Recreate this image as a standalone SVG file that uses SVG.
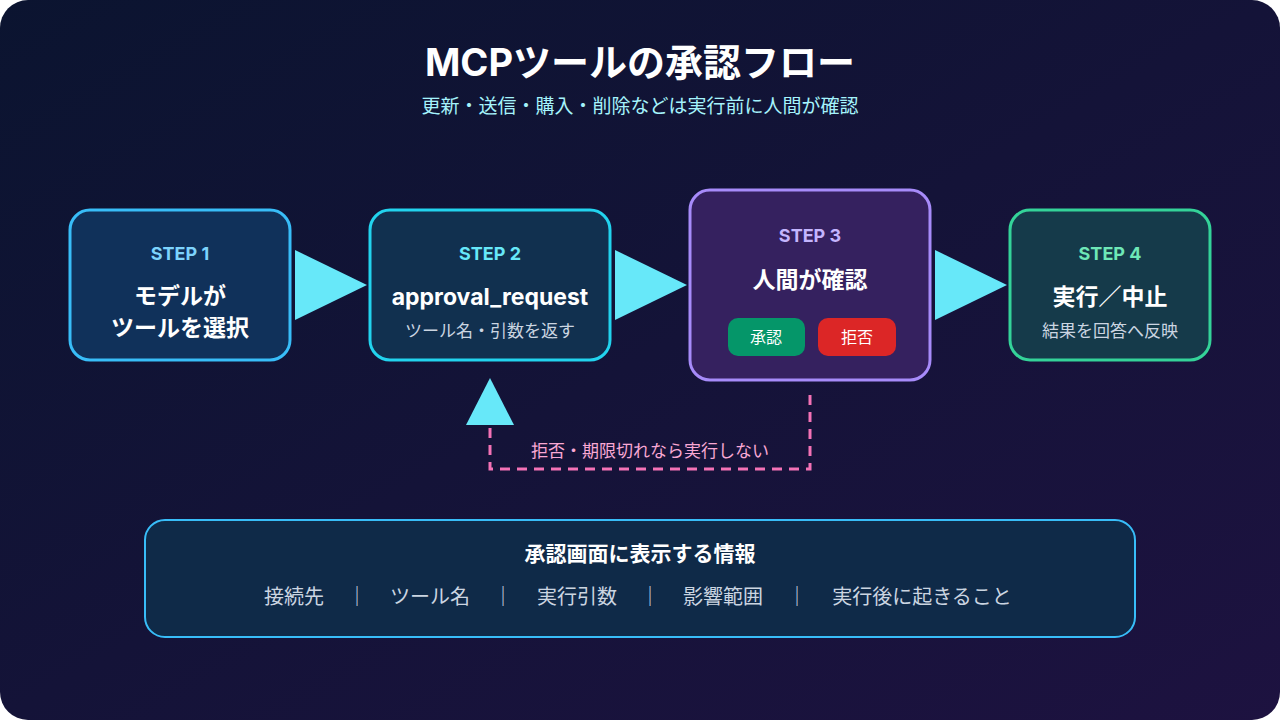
<svg xmlns="http://www.w3.org/2000/svg" width="1280" height="720" viewBox="0 0 1280 720">
<defs>
<linearGradient id="bg" x1="0" y1="0" x2="1" y2="1"><stop offset="0" stop-color="#0b1430"/><stop offset="1" stop-color="#1d1240"/></linearGradient>
<style>
text{font-family:Inter,"Noto Sans CJK JP",sans-serif;text-anchor:middle}
.step{font-size:18px;font-weight:700}
.main{font-size:23px;font-weight:700;fill:#fff}
.sub{font-size:17px;fill:#cbd5e1}
.arr{fill:#67e8f9}
.it{font-size:20px;fill:#cbd5e1}
</style>
</defs>
<rect width="1280" height="720" rx="28" fill="url(#bg)"/>
<text x="640" y="76" font-size="38" font-weight="700" fill="#fff">MCPツールの承認フロー</text>
<text x="640" y="113" font-size="19" fill="#a5f3fc">更新・送信・購入・削除などは実行前に人間が確認</text>
<g id="connectors">
<polygon class="arr" points="295,250 367,285 295,320"/>
<polygon class="arr" points="615,250 687,285 615,320"/>
<polygon class="arr" points="935,250 1007,285 935,320"/>
<path d="M810 395 V469 H490 V425" fill="none" stroke="#f472b6" stroke-width="3" stroke-dasharray="10 7"/>
<polygon class="arr" points="466,425 490,378 514,425"/>
<text x="650" y="457" font-size="17" fill="#f9a8d4">拒否・期限切れなら実行しない</text>
</g>
<g id="step1">
<rect x="70" y="210" width="220" height="150" rx="20" fill="#10315a" stroke="#38bdf8" stroke-width="3"/>
<text class="step" x="180" y="260" fill="#7dd3fc">STEP 1</text>
<text class="main" x="180" y="304">モデルが</text>
<text class="main" x="180" y="336">ツールを選択</text>
</g>
<g id="step2">
<rect x="370" y="210" width="240" height="150" rx="20" fill="#11304f" stroke="#22d3ee" stroke-width="3"/>
<text class="step" x="490" y="260" fill="#67e8f9">STEP 2</text>
<text class="main" x="490" y="305" font-family="Inter,sans-serif">approval_request</text>
<text class="sub" x="490" y="337">ツール名・引数を返す</text>
</g>
<g id="step3">
<rect x="690" y="190" width="240" height="190" rx="20" fill="#35215f" stroke="#a78bfa" stroke-width="3"/>
<text class="step" x="810" y="242" fill="#c4b5fd">STEP 3</text>
<text class="main" x="810" y="288">人間が確認</text>
<rect x="728" y="318" width="77" height="38" rx="10" fill="#059669"/>
<text x="766" y="343" font-size="16" fill="#fff">承認</text>
<rect x="818" y="318" width="78" height="38" rx="10" fill="#dc2626"/>
<text x="857" y="343" font-size="16" fill="#fff">拒否</text>
</g>
<g id="step4">
<rect x="1010" y="210" width="200" height="150" rx="20" fill="#153a4a" stroke="#34d399" stroke-width="3"/>
<text class="step" x="1110" y="260" fill="#6ee7b7">STEP 4</text>
<text class="main" x="1110" y="305">実行／中止</text>
<text class="sub" x="1110" y="337">結果を回答へ反映</text>
</g>
<g id="info">
<rect x="145" y="520" width="990" height="117" rx="20" fill="#0f2a48" stroke="#38bdf8" stroke-width="2"/>
<text x="640" y="561" font-size="21" font-weight="700" fill="#fff">承認画面に表示する情報</text>
<text class="it" x="294" y="604">接続先</text>
<text class="it" x="357" y="604">｜</text>
<text class="it" x="430" y="604">ツール名</text>
<text class="it" x="503" y="604">｜</text>
<text class="it" x="577" y="604">実行引数</text>
<text class="it" x="650" y="604">｜</text>
<text class="it" x="723" y="604">影響範囲</text>
<text class="it" x="797" y="604">｜</text>
<text class="it" x="922" y="604">実行後に起きること</text>
</g>
</svg>
